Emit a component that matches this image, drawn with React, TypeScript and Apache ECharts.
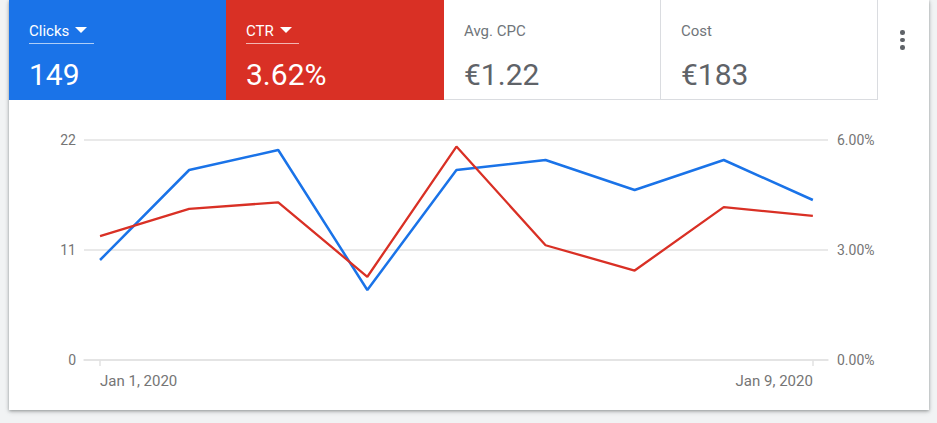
import React, { useEffect, useRef } from "react";
import * as echarts from "echarts";

const dates = [
  "Jan 1, 2020",
  "Jan 2, 2020",
  "Jan 3, 2020",
  "Jan 4, 2020",
  "Jan 5, 2020",
  "Jan 6, 2020",
  "Jan 7, 2020",
  "Jan 8, 2020",
  "Jan 9, 2020",
];
const clicks = [10, 19, 21, 7, 19, 20, 17, 20, 16];
const ctr = [3.38, 4.12, 4.3, 2.27, 5.82, 3.13, 2.44, 4.17, 3.93];
const shownDateIdx = [0, 8];

const tileLabels = ["Clicks", "CTR", "Avg. CPC", "Cost"];
const tileValues = ["149", "3.62%", "€1.22", "€183"];
const tileActiveColors = ["#1a73e8", "#d93025", null, null];

const FONT = "Roboto, 'Noto Sans', sans-serif";
const LABEL_GRAY = "#757575";
const GRID_GRAY = "#e2e2e2";

function Chart() {
  const ref = useRef<HTMLDivElement>(null);
  useEffect(() => {
    if (!ref.current) return;
    const chart = echarts.init(ref.current, null, { renderer: "svg" });
    chart.setOption({
      animation: false,
      textStyle: { fontFamily: FONT },
      grid: { left: 75, right: 101, top: 40, bottom: 50 },
      xAxis: {
        type: "value",
        min: -0.18,
        max: 8.17,
        splitLine: { show: false },
        axisLine: { show: true, lineStyle: { color: GRID_GRAY, width: 1.5 } },
        axisTick: {
          show: true,
          customValues: shownDateIdx,
          length: 6,
          lineStyle: { color: GRID_GRAY, width: 1.5 },
        },
        axisLabel: {
          customValues: shownDateIdx,
          formatter: (v: number) => dates[Math.round(v)],
          color: LABEL_GRAY,
          fontSize: 15,
          fontFamily: FONT,
          margin: 13,
          alignMinLabel: "left",
          alignMaxLabel: "right",
        },
      },
      yAxis: [
        {
          type: "value",
          min: 0,
          max: 22,
          interval: 11,
          position: "left",
          axisLine: { show: false },
          axisTick: { show: false },
          splitLine: { show: true, lineStyle: { color: GRID_GRAY, width: 1.5 } },
          axisLabel: {
            color: LABEL_GRAY,
            fontSize: 14,
            fontFamily: FONT,
            margin: 8,
          },
        },
        {
          type: "value",
          min: 0,
          max: 6,
          interval: 3,
          position: "right",
          axisLine: { show: false },
          axisTick: { show: false },
          splitLine: { show: false },
          axisLabel: {
            color: LABEL_GRAY,
            fontSize: 14,
            fontFamily: FONT,
            margin: 9,
            formatter: (v: number) => v.toFixed(2) + "%",
          },
        },
      ],
      series: [
        {
          name: "Clicks",
          type: "line",
          yAxisIndex: 0,
          data: clicks.map((v, i) => [i, v]),
          showSymbol: false,
          symbol: "none",
          lineStyle: { color: "#1a73e8", width: 2.5 },
          itemStyle: { color: "#1a73e8" },
          z: 2,
        },
        {
          name: "CTR",
          type: "line",
          yAxisIndex: 1,
          data: ctr.map((v, i) => [i, v]),
          showSymbol: false,
          symbol: "none",
          lineStyle: { color: "#d93025", width: 2.3 },
          itemStyle: { color: "#d93025" },
          z: 3,
        },
      ],
    });
    return () => chart.dispose();
  }, []);
  return (
    <div
      ref={ref}
      style={{ position: "absolute", left: 0, top: 100, width: 920, height: 310 }}
    />
  );
}

export default function App() {
  useEffect(() => {
    document.body.style.margin = "0";
  }, []);
  const tileWidths = [217, 218, 217, 217];
  let x = 0;
  const tiles = tileLabels.map((label, i) => {
    const left = x;
    x += tileWidths[i];
    const active = tileActiveColors[i];
    return (
      <div
        key={label}
        style={{
          position: "absolute",
          left,
          top: 0,
          width: tileWidths[i],
          height: 100,
          boxSizing: "border-box",
          background: active || "#fff",
          borderBottom: active ? "none" : "1px solid #dadce0",
          borderRight: i >= 2 ? "1px solid #dadce0" : "none",
          color: active ? "#fff" : "#5f6368",
          fontFamily: FONT,
        }}
      >
        <div
          style={{
            position: "absolute",
            left: 20,
            top: 21,
            height: 20,
            lineHeight: "20px",
            fontSize: 15,
            paddingRight: active ? 7 : 0,
            paddingBottom: 2,
            borderBottom: active ? "1px solid rgba(255,255,255,0.65)" : "none",
            color: active ? "#fff" : "#70757a",
            whiteSpace: "nowrap",
          }}
        >
          {label}
          {active ? (
            <span
              style={{
                display: "inline-block",
                width: 0,
                height: 0,
                marginLeft: 6,
                position: "relative",
                top: -3,
                borderLeft: "6px solid transparent",
                borderRight: "6px solid transparent",
                borderTop: "6px solid #fff",
              }}
            />
          ) : null}
        </div>
        <div
          style={{
            position: "absolute",
            left: 20,
            top: 57,
            lineHeight: "36px",
            fontSize: 30,
            whiteSpace: "nowrap",
          }}
        >
          {tileValues[i]}
        </div>
      </div>
    );
  });
  return (
    <div
      style={{
        position: "absolute",
        left: 0,
        top: 0,
        width: 937,
        height: 423,
        background: "#f1f3f4",
        overflow: "hidden",
      }}
    >
      <div
        style={{
          position: "absolute",
          left: 9,
          top: 0,
          width: 920,
          height: 410,
          background: "#fff",
          boxShadow: "0 1px 3px rgba(60,64,67,0.45), 0 2px 5px rgba(60,64,67,0.15)",
        }}
      >
        {tiles}
        {[32, 39.5, 47].map((cy) => (
          <div
            key={cy}
            style={{
              position: "absolute",
              left: 891,
              top: cy - 2,
              width: 4.5,
              height: 4.5,
              borderRadius: "50%",
              background: "#5f6368",
            }}
          />
        ))}
        <Chart />
      </div>
    </div>
  );
}
